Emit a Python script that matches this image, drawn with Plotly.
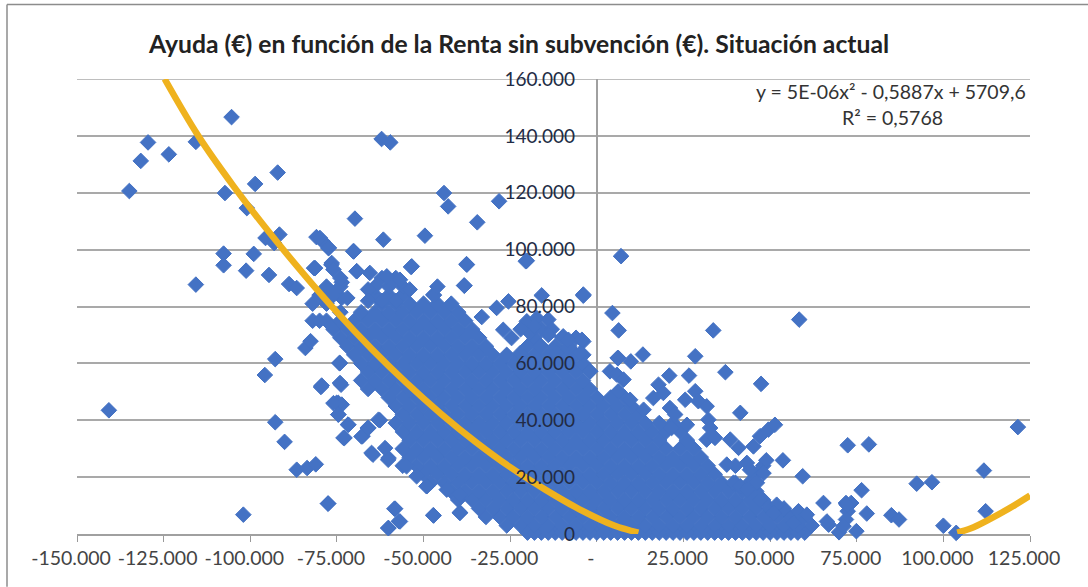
import plotly.graph_objects as go

TITLE = "Ayuda (€) en función de la Renta sin subvención (€). Situación actual"
EQUATION = "y = 5E-06x² - 0,5887x + 5709,6"
R_SQUARED = "R² = 0,5768"

x_ticks = [-150000, -125000, -100000, -75000, -50000, -25000, 0, 25000, 50000, 75000, 100000, 125000]
x_labels = ["-150.000", "-125.000", "-100.000", "-75.000", "-50.000", "-25.000", "-", "25.000", "50.000", "75.000", "100.000", "125.000"]
y_ticks = [0, 20000, 40000, 60000, 80000, 100000, 120000, 140000, 160000]
y_labels = ["0", "20.000", "40.000", "60.000", "80.000", "100.000", "120.000", "140.000", "160.000"]

# Isolated and sparse households (thousands of euros)
sparse_x = [-105.4,-129.5,-115.7,-123.5,-131.6,-134.9,-107.3,-98.6,-92.1,-101.0,-95.6,-91.6,-93.1,-107.7,-99.0,-107.7,-101.2,-94.6,-115.7,-88.8,-86.6,-80.9,-79.1,-77.3,-70.1,-69.8,-61.6,-49.6,-62.1,-59.6,-44.1,-42.9,-28.2,-34.5,-37.5,-20.5,-38.2,-53.6,-69.3,-81.6,-76.6,-73.6,7.0,-3.9,4.5,6.3,33.6,58.4,13.3,9.8,6.0,28.4,20.9,26.6,37.1,47.4,41.4,121.5,72.4,78.5,53.7,48.9,59.4,111.7,92.3,96.7,76.4,112.2,100.0,103.7,77.9,85.0,87.2,74.9,69.9,65.4,71.9,73.4,72.4,66.9,71.9,
 -140.8,-102.0,-92.8,-95.8,-84.1,-82.6,-92.8,-90.1,-86.6,-83.6,-81.1,-77.6,-79.6,-73.8,-74.3,-75.1,-73.6,-74.6,-71.8,-72.8,-67.6,-66.1,-62.6,-64.6,-60.1,-58.4,-57.1,-60.1,-47.1,-39.5,-49.1,
 -81.3,-76.5,-79.9,-77.5,-70.3,-69.3,-53.4,-37.6,-38.3,-20.2,-15.9,-3.9,-73.6,-74.1,-79.4,-74.1,-33.2,-28.9,-25.5,-47.2,-27.0,-24.6,-20.2,-17.3,-14.0,-19.3,-9.7,-3.9,-22.1,-16.4,-11.6,-3.9,-2.0,
 -8.2,-4.3,-4.8,-1.9,3.8,6.2,5.8,7.7,6.2,9.6,13.5,17.8,19.2,16.3,21.1,22.6,25.5,28.4,29.3,31.7,32.2,32.7,26.0,21.6,31.7,34.1,38.5,40.9,45.2,47.1,49.5,51.4,37.5,43.3,44.2,48.1,46.2,39.4,41.4,51.9,58.2,60.6,72.1,66.4,71.2,47.1,43.3,51.0,56.7,
 -74.6,-76.0,-74.6,-71.7,-73.1,-67.9,-65.9,-63.0,-65.0,-61.1,-60.2,-54.9,-52.0,-49.1,-43.3,-39.5,-39.5,-47.2,-58.2,-56.8,-60.2,-77.5,
 -82.0,-78.0,-74.0,-80.0,-76.0,-72.0,-78.0,-74.0,-74.0,-76.0,-82.0,-64.0,-60.0,-56.0,-64.0,-60.0,-56.0,-62.0,-58.0,-47.0,-46.0,-65.5,-60.6,-56.8,
 -66.0,-66.0,-62.0,-58.0,-54.0,-80.0,-22.0,-16.0,-13.0,-18.0,-14.0]
sparse_y = [146.6,137.7,137.9,133.5,131.2,120.6,119.9,123.1,127.1,114.6,104.1,105.3,102.3,98.6,98.5,94.5,92.6,91.1,87.7,87.9,86.5,104.4,102.9,100.6,99.4,110.9,103.5,104.9,138.9,137.7,119.9,115.2,117.0,109.6,94.7,95.9,87.3,93.9,92.4,93.5,94.7,88.5,97.7,84.2,77.7,71.6,71.6,75.4,63.1,60.7,61.9,62.5,55.7,55.7,56.9,52.8,42.6,37.6,31.2,31.5,25.9,25.9,20.3,22.3,17.7,18.2,15.4,8.0,2.9,0.4,7.2,6.6,5.1,1.0,0.6,10.9,10.9,10.9,8.0,3.3,5.1,
 43.5,6.8,61.5,55.9,65.4,67.8,39.3,32.4,22.6,23.2,24.5,10.7,51.7,52.5,60.1,46.1,45.5,42.0,38.5,33.8,34.4,37.3,40.0,27.9,26.7,8.9,4.5,2.1,6.5,7.6,16.8,
 93.5,95.3,104.1,100.6,99.4,92.4,94.1,94.9,87.4,96.1,83.9,83.8,83.0,60.1,52.2,53.1,76.3,79.5,81.8,84.1,71.8,68.9,74.8,75.9,75.4,70.7,69.5,67.7,63.6,66.0,63.6,63.0,57.2,
 68.3,68.3,63.6,57.2,57.2,61.9,56.0,54.3,50.2,47.2,43.7,52.5,49.6,47.8,44.3,42.0,47.2,50.2,46.7,44.9,40.2,37.3,38.4,37.3,33.2,33.8,33.2,30.3,30.8,34.4,36.7,38.4,24.4,25.0,22.6,21.4,18.0,18.0,16.8,10.3,8.0,6.8,10.3,4.4,2.7,12.0,15.6,7.4,3.9,
 46.1,46.0,42.0,38.4,33.8,34.3,37.3,40.2,28.5,30.2,26.1,23.8,20.3,16.8,15.6,13.8,7.4,6.6,8.9,4.4,2.1,10.7,
 81.0,81.0,78.0,84.0,84.0,83.0,87.0,87.0,90.0,93.0,75.0,84.0,84.0,84.0,87.0,87.0,87.0,90.0,90.0,84.0,87.0,91.8,90.6,89.4,
 86.0,82.0,82.0,82.0,86.0,75.0,72.0,72.0,72.0,73.0,70.0]

# Dense body of the cloud, read row by row: one income list per aid level (thousands of euros)
body_y = [0.5,0.5,3,6,9,12,15,18,21,24,27,30,33,36,39,42,45,48,51,54,57,60,63,66,69,72,75,78,81]
body_x = [
 [-20,-16,-12,-8,-4,0,4,8,12,16,20,24,28,32,36,40,44,48,52,56,60],
 [-18,-14,-10,-6,-2,2,6,10,14,18,22,26,30,34,38,42,46,50,54,58],
 [-26,-22,-18,-14,-10,-6,-2,2,6,10,14,18,22,26,30,34,38,42,46,50,54,58,62],
 [-32,-28,-24,-20,-16,-12,-8,-4,0,4,8,12,16,20,24,28,32,36,40,44,48,52,56,60],
 [-34,-30,-26,-22,-18,-14,-10,-6,-2,2,6,10,14,18,22,26,30,34,38,42,46,50,54],
 [-40,-36,-32,-28,-24,-20,-16,-12,-8,-4,0,4,8,12,16,20,24,28,32,36,40,44,48],
 [-42,-38,-34,-30,-26,-22,-18,-14,-10,-6,-2,2,6,10,14,18,22,26,30,34,38,42,46],
 [-48,-44,-40,-36,-32,-28,-24,-20,-16,-12,-8,-4,0,4,8,12,16,20,24,28,32,36,40,44],
 [-50,-46,-42,-38,-34,-30,-26,-22,-18,-14,-10,-6,-2,2,6,10,14,18,22,26,30,34,46],
 [-56,-52,-48,-44,-40,-36,-32,-28,-24,-20,-16,-12,-8,-4,0,4,8,12,16,20,24,28,32,40,48],
 [-54,-50,-46,-42,-38,-34,-30,-26,-22,-18,-14,-10,-6,-2,2,6,10,14,18,22,26,30],
 [-56,-52,-48,-44,-40,-36,-32,-28,-24,-20,-16,-12,-8,-4,0,4,8,12,16,20,24,28],
 [-54,-50,-46,-42,-38,-34,-30,-26,-22,-18,-14,-10,-6,-2,2,6,10,14,18,26],
 [-56,-52,-48,-44,-40,-36,-32,-28,-24,-20,-16,-12,-8,-4,0,4,8,12,16,20,24],
 [-58,-54,-50,-46,-42,-38,-34,-30,-26,-22,-18,-14,-10,-6,-2,2,6,10,14,18,22],
 [-56,-52,-48,-44,-40,-36,-32,-28,-24,-20,-16,-12,-8,-4,0,4,8,12],
 [-58,-54,-50,-46,-42,-38,-34,-30,-26,-22,-18,-14,-10,-6,-2,2,6,10],
 [-60,-56,-52,-48,-44,-40,-36,-32,-28,-24,-20,-16,-12,-8,-4,0,4,8],
 [-66,-62,-58,-54,-50,-46,-42,-38,-34,-30,-26,-22,-18,-14,-10,-6,-2],
 [-68,-64,-60,-56,-52,-48,-44,-40,-36,-32,-28,-24,-20,-16,-12,-8,-4],
 [-66,-62,-58,-54,-50,-46,-42,-38,-34,-30,-26,-22,-18,-14,-10,-6],
 [-68,-64,-60,-56,-52,-48,-44,-40,-36,-32,-28,-24,-20,-16,-12,-8,-4],
 [-70,-66,-62,-58,-54,-50,-46,-42,-38,-34,-30,-26,-22,-18,-14,-10,-6],
 [-72,-68,-64,-60,-56,-52,-48,-44,-40,-36,-32,-20,-16,-12,-8],
 [-74,-70,-66,-62,-58,-54,-50,-46,-42,-38,-34,-18,-10,-6],
 [-76,-72,-68,-64,-60,-56,-52,-48,-44,-40,-36],
 [-78,-74,-70,-66,-62,-58,-54,-50,-46,-42,-38],
 [-68,-64,-60,-56,-52,-48,-44,-40],
 [-62,-58,-54,-50,-46,-42],
]

# Fitted curve as drawn on the chart (thousands of euros), two visible stretches
curve_left_x = [-124.7,-115,-105,-95,-85,-75,-65,-55,-45,-35,-25,-15,-5,5,12]
curve_left_y = [160,140,122.6,106.8,92,78,65.1,53.2,42.3,32.4,23.5,15.7,8.7,3,0.5]
curve_right_x = [104,108,113,119,125]
curve_right_y = [0.5,2,5,9,13.5]

BLUE = "#4472C4"
GOLD = "#EFB21E"
GRID = "#A9A9A9"
FONT = "Lato"

all_x, all_y = [], []
for level, incomes in zip(body_y, body_x):
    for v in incomes:
        all_x.append(v * 1000)
        all_y.append(level * 1000)
for a, b in zip(sparse_x, sparse_y):
    all_x.append(a * 1000)
    all_y.append(b * 1000)

fig = go.Figure()
fig.add_trace(go.Scatter(x=all_x, y=all_y, mode="markers", cliponaxis=False, hoverinfo="skip",
                         marker=dict(symbol="diamond", size=12, color=BLUE, line=dict(width=1, color=BLUE))))
for cx, cy in ((curve_left_x, curve_left_y), (curve_right_x, curve_right_y)):
    fig.add_trace(go.Scatter(x=[v * 1000 for v in cx], y=[v * 1000 for v in cy], mode="lines",
                             line=dict(color=GOLD, width=6.5, shape="spline"), hoverinfo="skip"))

fig.update_layout(
    width=1088, height=587, autosize=False, showlegend=False,
    paper_bgcolor="white", plot_bgcolor="white",
    margin=dict(l=77, r=58, t=79.4, b=52.7),
    title=dict(text="<b>" + TITLE + "</b>", x=519 / 1088, xanchor="center", y=1 - 44 / 587, yanchor="middle",
               font=dict(family=FONT, size=24.7, color="#222222")),
    xaxis=dict(range=[-150000, 125000], tickmode="array", tickvals=x_ticks, ticktext=x_labels,
               ticks="outside", ticklen=6, tickcolor="#999999", showgrid=False, showline=True,
               linecolor="#A0A0A0", linewidth=1.5, zeroline=True, zerolinecolor="#A0A0A0", zerolinewidth=1.5,
               layer="below traces", ticklabelshift=-6,
               tickfont=dict(family=FONT, size=19.5, color="#444444")),
    yaxis=dict(range=[0, 160000], tickmode="array", tickvals=y_ticks, ticktext=y_labels,
               anchor="free", position=(575 - 77) / 953, ticks="", showline=False, zeroline=False,
               showgrid=True, gridcolor=GRID, gridwidth=1.5,
               tickfont=dict(family=FONT, size=19, color="#222B45")),
    shapes=[
        dict(type="line", xref="paper", yref="y", x0=0, x1=1, y0=y_ticks[-1], y1=y_ticks[-1], layer="below",
             line=dict(color=GRID, width=1.5)),
        dict(type="line", xref="paper", yref="paper", x0=(7 - 77) / 953, x1=(1088 - 77) / 953,
             y0=(534.3 - 5) / 454.9, y1=(534.3 - 5) / 454.9, line=dict(color="#8C8C8C", width=1.5)),
        dict(type="line", xref="paper", yref="paper", x0=(7 - 77) / 953, x1=(7 - 77) / 953,
             y0=(534.3 - 5) / 454.9, y1=(534.3 - 587) / 454.9, line=dict(color="#8C8C8C", width=1.5)),
    ],
    annotations=[
        dict(text=EQUATION, xref="paper", yref="paper", x=(891 - 77) / 953, y=(534.3 - 92) / 454.9,
             showarrow=False, xanchor="center", yanchor="middle", font=dict(family=FONT, size=19.5, color="#333333")),
        dict(text=R_SQUARED, xref="paper", yref="paper", x=(892 - 77) / 953, y=(534.3 - 118) / 454.9,
             showarrow=False, xanchor="center", yanchor="middle", font=dict(family=FONT, size=19.5, color="#333333")),
    ],
)
fig.write_html("out.html", post_script="document.body.style.margin='0';", config={"displayModeBar": False})
